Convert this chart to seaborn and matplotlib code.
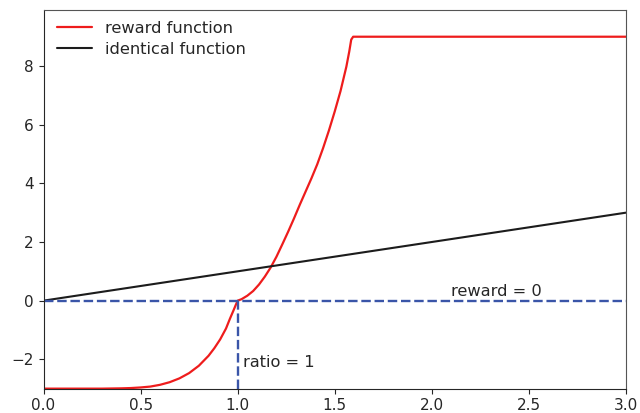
import numpy as np
import pandas as pd
import seaborn as sns
import matplotlib.pyplot as plt

# reward curve
ratio = [0.0, 0.30, 0.40, 0.45, 0.50, 0.55, 0.60, 0.65, 0.70, 0.75, 0.80,
         0.85, 0.88, 0.91, 0.94, 0.96, 0.98, 0.99, 1.0, 1.02, 1.05, 1.08,
         1.11, 1.14, 1.17, 1.20, 1.23, 1.26, 1.29, 1.32, 1.35, 1.38, 1.41,
         1.44, 1.47, 1.50, 1.53, 1.56, 1.575, 1.585, 1.595, 3.0]
reward = [-3.0, -3.0, -2.99, -2.98, -2.96, -2.93, -2.87, -2.78, -2.65, -2.47,
          -2.22, -1.88, -1.62, -1.32, -0.95, -0.62, -0.31, -0.15, 0.0, 0.05,
          0.17, 0.33, 0.55, 0.82, 1.13, 1.50, 1.92, 2.35, 2.80, 3.27, 3.72,
          4.17, 4.65, 5.20, 5.80, 6.45, 7.15, 7.98, 8.50, 8.90, 9.0, 9.0]

ident_x = [0.0, 3.0]
ident_y = [0.0, 3.0]

sns.set_theme(style="ticks", rc={
    "font.size": 11, "axes.labelsize": 11, "xtick.labelsize": 11,
    "ytick.labelsize": 11, "legend.fontsize": 11.7,
    "xtick.major.size": 3.5, "ytick.major.size": 3.5,
    "xtick.major.width": 0.8, "ytick.major.width": 0.8,
    "axes.linewidth": 0.8,
})
plt.rcParams['font.family'] = ['DejaVu Sans']

fig, ax = plt.subplots(figsize=(6.4, 4.13), dpi=100)

sns.lineplot(x=ratio, y=reward, ax=ax, color='#ee1c1c', lw=1.6,
             label='reward function', sort=False)
sns.lineplot(x=ident_x, y=ident_y, ax=ax, color='#1c1c1c', lw=1.5,
             label='identical function')

ax.plot([0, 3], [0, 0], ls='--', color='#3a55a8', lw=1.7, dashes=(4, 1.6))
ax.plot([1, 1], [-3, 0], ls='--', color='#3a55a8', lw=1.7, dashes=(4, 1.6))

ax.text(2.1, 0.15, 'reward = 0', color='#262626', fontsize=11.7)
ax.text(1.03, -2.25, 'ratio = 1', color='#262626', fontsize=11.7)

ax.set_xlim(0, 3)
ax.set_ylim(-3, 9.9)
ax.set_yticks([-2, 0, 2, 4, 6, 8])
ax.set_xticks([0, 0.5, 1.0, 1.5, 2.0, 2.5, 3.0])
ax.spines['top'].set_color('#555555')
ax.spines['right'].set_color('#555555')
ax.legend(loc='upper left', frameon=False, bbox_to_anchor=(-0.002, 1.010),
          labelspacing=0.37, handlelength=2.15)

fig.subplots_adjust(left=0.068, right=0.978, top=0.975, bottom=0.059)
fig.savefig('out.png', dpi=100)
